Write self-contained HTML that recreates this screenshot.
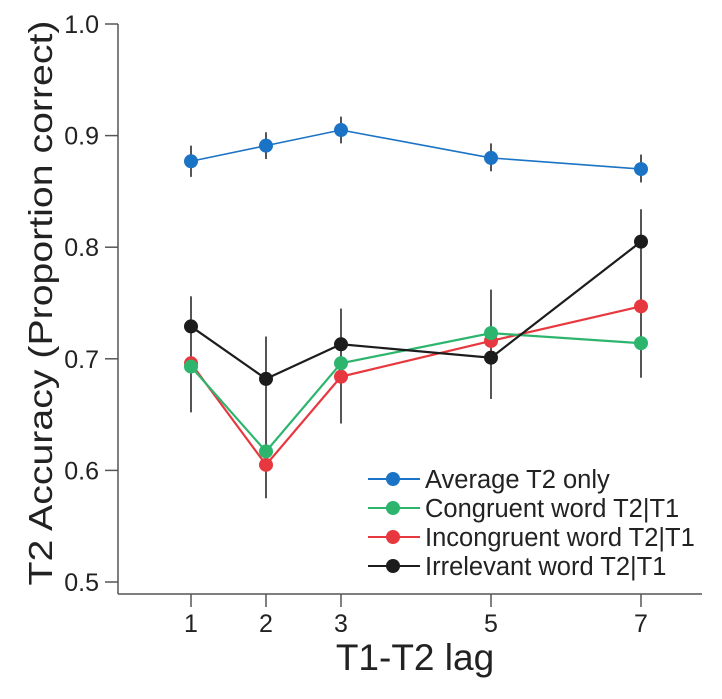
<!DOCTYPE html>
<html><head><meta charset="utf-8"><style>
body{margin:0;background:#fff}
svg text{font-family:"Liberation Sans",Arial,sans-serif;fill:#222}
</style></head><body>
<svg id="chart" width="722" height="694" viewBox="0 0 722 694" xmlns="http://www.w3.org/2000/svg"></svg>
<script>
const lags=[1,2,3,5,7];
const yTicks=[0.5,0.6,0.7,0.8,0.9,1.0];
const yTickLabels=["0.5","0.6","0.7","0.8","0.9","1.0"];
const seriesNames=["Average T2 only","Congruent word T2|T1","Incongruent word T2|T1","Irrelevant word T2|T1"];
const avgVals=[0.877,0.891,0.905,0.880,0.870];
const congVals=[0.693,0.617,0.696,0.723,0.714];
const incongVals=[0.696,0.605,0.684,0.716,0.747];
const irrVals=[0.729,0.682,0.713,0.701,0.805];
const avgLow=[0.863,0.879,0.893,0.868,0.858];
const avgHigh=[0.891,0.903,0.917,0.893,0.883];
const irrLow=[0.652,0.575,0.642,0.664,0.683];
const irrHigh=[0.756,0.720,0.745,0.762,0.834];
const colors=["#1a73c4","#2db56e","#e8383f","#1c1c1c"];

const NS="http://www.w3.org/2000/svg";
const svg=document.getElementById('chart');
const X=l=>191+(l-1)*75;
const Y=v=>582-(v-0.5)*1116;
function mk(tag,a,p){const e=document.createElementNS(NS,tag);for(const k in a)e.setAttribute(k,a[k]);(p||svg).appendChild(e);return e;}

let e=mk('line',{x1:118,y1:24,x2:118,y2:594,stroke:'#555','stroke-width':1.5});


e=mk('line',{x1:118,y1:594,x2:702,y2:594,stroke:'#555','stroke-width':1.5});


yTicks.forEach((v,i)=>{
  mk('line',{x1:105,y1:Y(v),x2:118,y2:Y(v),stroke:'#555','stroke-width':1.5});
  const t=mk('text',{x:99,y:Y(v)+9,'text-anchor':'end','font-size':25});
  t.textContent=yTickLabels[i];
  
  
});
lags.forEach(l=>{
  mk('line',{x1:X(l),y1:594,x2:X(l),y2:607,stroke:'#555','stroke-width':1.5});
  const t=mk('text',{x:X(l),y:632,'text-anchor':'middle','font-size':25});
  t.textContent=String(l);
  
  
});
e=mk('text',{x:415,y:670,'text-anchor':'middle','font-size':37});
e.textContent='T1-T2 lag';


e=mk('text',{x:0,y:0,'text-anchor':'middle','font-size':33,transform:'translate(52,303) rotate(-90)',textLength:565,lengthAdjust:'spacingAndGlyphs'});
e.textContent='T2 Accuracy (Proportion correct)';



lags.forEach((l,i)=>{
  let b=mk('line',{x1:X(l),y1:Y(irrLow[i]),x2:X(l),y2:Y(irrHigh[i]),stroke:'#555','stroke-width':2});
  
  
  b=mk('line',{x1:X(l),y1:Y(avgLow[i]),x2:X(l),y2:Y(avgHigh[i]),stroke:'#555','stroke-width':2});
  
  
});

const allVals=[avgVals,congVals,incongVals,irrVals];
const keys=['average','congruent','incongruent','irrelevant'];
[2,1,3,0].forEach(s=>{
  const vals=allVals[s];
  const pl=mk('polyline',{points:lags.map((l,i)=>X(l)+','+Y(vals[i])).join(' '),fill:'none',stroke:colors[s],'stroke-width':s===0?1.6:2.2});
  
  
  lags.forEach((l,i)=>{
    const c=mk('circle',{cx:X(l),cy:Y(vals[i]),r:7,fill:colors[s]});
    
    
  });
});

const lg=mk('g',{});


seriesNames.forEach((n,i)=>{
  const y=479+i*29;
  const g=mk('g',{},lg);
  
  
  mk('line',{x1:368,y1:y,x2:420,y2:y,stroke:colors[i],'stroke-width':2},g);
  mk('circle',{cx:393,cy:y,r:7,fill:colors[i]},g);
  const t=mk('text',{x:425,y:y+9,'font-size':25.5},g);
  t.textContent=n;
});
</script>
</body></html>
